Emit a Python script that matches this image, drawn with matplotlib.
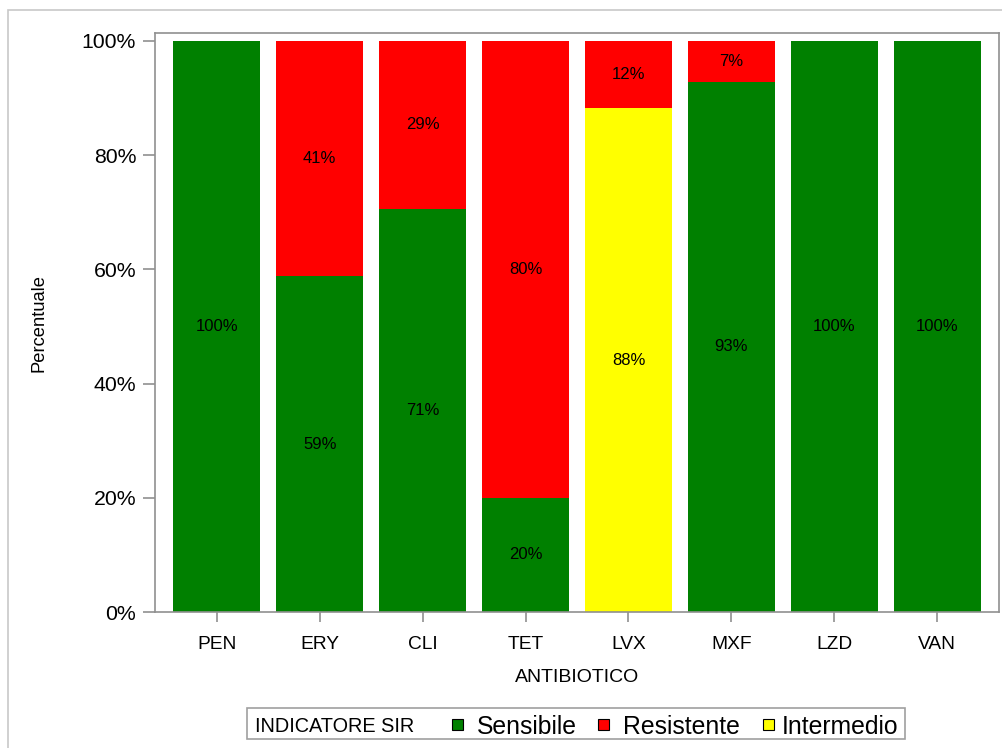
import matplotlib
matplotlib.use("Agg")
import matplotlib.pyplot as plt
from matplotlib.patches import Rectangle

plt.rcParams["font.family"] = ["Liberation Sans", "DejaVu Sans"]

categories = ["PEN", "ERY", "CLI", "TET", "LVX", "MXF", "LZD", "VAN"]
sensibile = [100, 58.8, 70.6, 20.0, 0, 92.9, 100, 100]
intermedio = [0, 0, 0, 0, 88.2, 0, 0, 0]
resistente = [0, 41.2, 29.4, 80.0, 11.8, 7.1, 0, 0]
series_names = ["Sensibile", "Resistente", "Intermedio"]
colors = {"Sensibile": "#008000", "Resistente": "#ff0000", "Intermedio": "#ffff00"}
yticks = [0, 20, 40, 60, 80, 100]
legend_title = "INDICATORE SIR"

W, H = 1003, 748
fig = plt.figure(figsize=(W/100, H/100), dpi=100)
ax = fig.add_axes([155/W, 1-612/H, (999-155)/W, (612-33)/H])

x = list(range(len(categories)))
w = 0.85
bottom = [0]*len(categories)
for name, vals in [("Sensibile", sensibile), ("Intermedio", intermedio), ("Resistente", resistente)]:
    ax.bar(x, [v/100 for v in vals], width=w, bottom=[b/100 for b in bottom],
           color=colors[name], edgecolor="none", zorder=2)
    for i, v in enumerate(vals):
        if v > 0:
            ax.text(i, (bottom[i] + v/2)/100, f"{v:.0f}%", ha="center", va="center",
                    fontsize=12, color="black", zorder=3)
    bottom = [b + v for b, v in zip(bottom, vals)]

ax.set_xlim(-0.6, 7.6)
ax.set_ylim(0, 1.014)
ax.set_yticks([t/100 for t in yticks])
ax.set_yticklabels([f"{t}%" for t in yticks], fontsize=15.3)
ax.set_xticks(x)
ax.set_xticklabels(categories, fontsize=13.8)
ax.tick_params(axis="both", colors="#909090", labelcolor="black", width=1.2)
ax.tick_params(axis="x", length=7, pad=10)
ax.tick_params(axis="y", length=8.5, pad=5)
for s in ax.spines.values():
    s.set_color("#909090")
    s.set_linewidth(1.2)
ax.set_xlabel("ANTIBIOTICO", fontsize=14, labelpad=12)
ax.set_ylabel("Percentuale", fontsize=13.2, labelpad=25)

# outer border
fig.patches.append(Rectangle((8/W, -0.01), 1.0, 1-10/H+0.01, transform=fig.transFigure,
                             fill=False, edgecolor="#c8c8c8", linewidth=1.2))

# legend (manual, SAS style)
def fx(px):
    return px / W
def fy(py):
    return 1 - py / H

fig.patches.append(Rectangle((fx(247), fy(739)), fx(905) - fx(247), fy(708) - fy(739),
                             transform=fig.transFigure, fill=True, facecolor="white",
                             edgecolor="#a0a0a0", linewidth=1.2))
yc = fy(724)
fig.text(fx(255), yc, legend_title, fontsize=14.3, ha="left", va="center_baseline")
sq_x = [452, 598, 763]
tx_x = [477, 623, 782]
for name, sx, tx in zip(series_names, sq_x, tx_x):
    fig.patches.append(Rectangle((fx(sx), fy(730)), fx(11), 11/H, transform=fig.transFigure,
                                 facecolor=colors[name], edgecolor="black", linewidth=0.8))
    fig.text(fx(tx), yc, name, fontsize=17.8, ha="left", va="center_baseline")

fig.savefig("out.png", dpi=100)
